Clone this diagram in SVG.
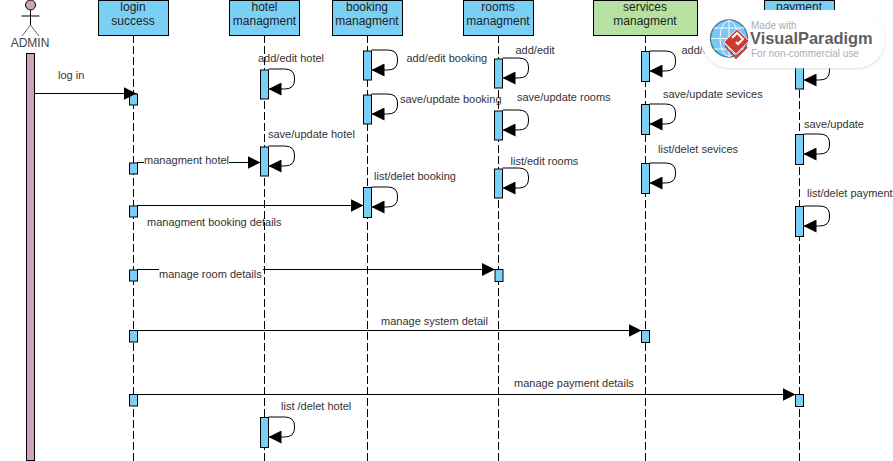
<svg xmlns="http://www.w3.org/2000/svg" width="893" height="461" viewBox="0 0 893 461">
<style>
text{font-family:"Liberation Sans",Arial,sans-serif;font-size:11px;fill:#333}
.h{font-size:12px;fill:#222;text-anchor:middle}
.box{fill:#7acff5;stroke:#000;stroke-width:1}
.grn{fill:#b7e1a1;stroke:#000;stroke-width:1}
.act{fill:#7acff5;stroke:#000;stroke-width:1}
.life{stroke:#000;stroke-width:1;stroke-dasharray:8 3;fill:none}
.msg{stroke:#000;stroke-width:1;fill:none}
.self{stroke:#000;stroke-width:1;fill:none}
</style>
<defs>
<marker id="ah" viewBox="0 0 13 13" refX="13" refY="6.500" markerWidth="13" markerHeight="13" markerUnits="userSpaceOnUse" orient="auto"><path d="M0 0L13 6.500L0 13Z" fill="#000"/></marker>
<path id="loop" d="M4 0H20Q30 0 30 9V11Q30 20 20 20H4" class="self" marker-end="url(#ah)"/>
<filter id="sh" x="-10%" y="-20%" width="120%" height="140%"><feGaussianBlur stdDeviation="1.500"/></filter>
</defs>
<rect width="893" height="461" fill="#fff"/>
<g id="lifelines">
<path class="life" d="M133.500 35V461M264.500 35V461M367.500 35V461M498.500 35V461M645.500 35V461M799.500 35V461"/>
</g>
<g id="node-admin">
<circle cx="30.500" cy="5" r="5" fill="#cda2be" stroke="#000"/>
<path d="M30.500 10V25M21.500 16H39.500" stroke="#000" fill="none"/>
<path d="M30.500 25L22 36M30.500 25L39 36" stroke="#666" fill="none"/>
<text class="h" x="30" y="47" style="fill:#444">ADMIN</text>
<rect x="26.500" y="53.500" width="8" height="407" fill="#cda2be" stroke="#000"/>
</g>
<g id="node-login"><rect class="box" x="98.500" y="0.500" width="70" height="35"/><text class="h" x="133" y="11">login</text><text class="h" x="133" y="25">success</text></g>
<g id="node-hotel"><rect class="box" x="229.500" y="0.500" width="70" height="35"/><text class="h" x="264.500" y="11">hotel</text><text class="h" x="264.500" y="25">managment</text></g>
<g id="node-booking"><rect class="box" x="332.500" y="0.500" width="70" height="35"/><text class="h" x="367" y="11">booking</text><text class="h" x="367" y="25">managment</text></g>
<g id="node-rooms"><rect class="box" x="463.500" y="0.500" width="70" height="35"/><text class="h" x="498" y="11">rooms</text><text class="h" x="498" y="25">managment</text></g>
<g id="node-services"><rect class="grn" x="593.500" y="0.500" width="104" height="35"/><text class="h" x="645" y="11">services</text><text class="h" x="645" y="25">managment</text></g>
<g id="node-payment"><rect class="box" x="764.500" y="0.500" width="70" height="35"/><text class="h" x="799" y="11">payment</text></g>
<g id="activations">
<rect class="act" x="129.500" y="94" width="8" height="11"/>
<rect class="act" x="129.500" y="163" width="8" height="11"/>
<rect class="act" x="129.500" y="206" width="8" height="11"/>
<rect class="act" x="129.500" y="270" width="8" height="11"/>
<rect class="act" x="129.500" y="330.500" width="8" height="11.500"/>
<rect class="act" x="129.500" y="394.500" width="8" height="11.500"/>
<rect class="act" x="260.500" y="70" width="8" height="29"/>
<rect class="act" x="260.500" y="147" width="8" height="29"/>
<rect class="act" x="260.500" y="417.500" width="8" height="30"/>
<rect class="act" x="363.500" y="51" width="8" height="29"/>
<rect class="act" x="363.500" y="95" width="8" height="29"/>
<rect class="act" x="363.500" y="187.500" width="8" height="30"/>
<rect class="act" x="494.500" y="59" width="8" height="29"/>
<rect class="act" x="494.500" y="111" width="8" height="29"/>
<rect class="act" x="494.500" y="169" width="8" height="29"/>
<rect class="act" x="641.500" y="51.500" width="8" height="30"/>
<rect class="act" x="641.500" y="104.500" width="8" height="30"/>
<rect class="act" x="641.500" y="163.500" width="8" height="30"/>
<rect class="act" x="795.500" y="60" width="8" height="29"/>
<rect class="act" x="795.500" y="134.500" width="8" height="30"/>
<rect class="act" x="795.500" y="206.500" width="8" height="30"/>
<rect class="act" x="495" y="269.500" width="8" height="12"/>
<rect class="act" x="641.500" y="330.500" width="8" height="12"/>
<rect class="act" x="795.500" y="394.500" width="8" height="12"/>
</g>
<g id="connectors">
<path class="msg" d="M34 93.500H136.500" marker-end="url(#ah)"/>
<path class="msg" d="M137 162.500H144M229 162.500H260.500" marker-end="url(#ah)"/>
<path class="msg" d="M137 205.500H363.500" marker-end="url(#ah)"/>
<path class="msg" d="M137 269.500H159M263 269.500H495" marker-end="url(#ah)"/>
<path class="msg" d="M137 330.500H641.500" marker-end="url(#ah)"/>
<path class="msg" d="M137 394.500H795.500" marker-end="url(#ah)"/>
<use href="#loop" x="264.500" y="69"/>
<use href="#loop" x="264.500" y="146"/>
<use href="#loop" x="264.500" y="417"/>
<use href="#loop" x="367.500" y="50"/>
<use href="#loop" x="367.500" y="94"/>
<use href="#loop" x="367.500" y="187"/>
<use href="#loop" x="498.500" y="58"/>
<use href="#loop" x="498.500" y="110"/>
<use href="#loop" x="498.500" y="168"/>
<use href="#loop" x="645.500" y="51"/>
<use href="#loop" x="645.500" y="104"/>
<use href="#loop" x="645.500" y="163"/>
<use href="#loop" x="799.500" y="60"/>
<use href="#loop" x="799.500" y="134"/>
<use href="#loop" x="799.500" y="206"/>
</g>
<g id="labels">
<text x="58" y="79">log in</text>
<text x="258" y="62">add/edit hotel</text>
<text x="268" y="138">save/update hotel</text>
<text x="144" y="164">managment hotel</text>
<text x="147" y="226">managment booking details</text>
<text x="159" y="278">manage room details</text>
<text x="406.500" y="62">add/edit booking</text>
<text x="400" y="103">save/update booking</text>
<text x="374" y="180">list/delet booking</text>
<text x="515.500" y="54">add/edit</text>
<text x="517" y="101">save/update rooms</text>
<text x="510.500" y="165">list/edit rooms</text>
<text x="681.500" y="54">add/edit</text>
<text x="663" y="98">save/update sevices</text>
<text x="658" y="153">list/delet sevices</text>
<text x="804" y="128">save/update</text>
<text x="807" y="197">list/delet payment</text>
<text x="381" y="325">manage system detail</text>
<text x="514" y="387">manage payment details</text>
<text x="281" y="410">list /delet hotel</text>
</g>
<g id="badge">
<rect x="702" y="12" width="183" height="57" rx="28" fill="#ccc" opacity="0.6" filter="url(#sh)"/>
<rect x="701" y="10" width="184" height="58" rx="29" fill="#fff"/>
<circle cx="729" cy="38.500" r="18.500" fill="#7cc8f2" stroke="#4f7f96" stroke-width="1.500"/>
<path d="M711 38.500H747M729 20V57M714 28H744M714 49H744" stroke="#fff" stroke-width="0.9" fill="none"/>
<ellipse cx="729" cy="38.500" rx="9" ry="18" stroke="#fff" stroke-width="0.9" fill="none"/>
<path d="M737 29L749 41L736 54L724 42Z" fill="#cf3a30" stroke="#fff" stroke-width="0.8"/>
<path d="M725 46L736 58L747 47" fill="none" stroke="#cf3a30" stroke-width="1.800"/>
<path d="M732 38L737 33L743 39L738 44L736 42" fill="none" stroke="#fff" stroke-width="2"/>
<text x="751" y="29" style="font-size:10px;fill:#adadad">Made with</text>
<text x="750" y="44" style="font-size:16.400px;font-weight:bold;fill:#5f5f5f">VisualParadigm</text>
<text x="751" y="56.500" style="font-size:10px;fill:#adadad">For non-commercial use</text>
</g>
</svg>
